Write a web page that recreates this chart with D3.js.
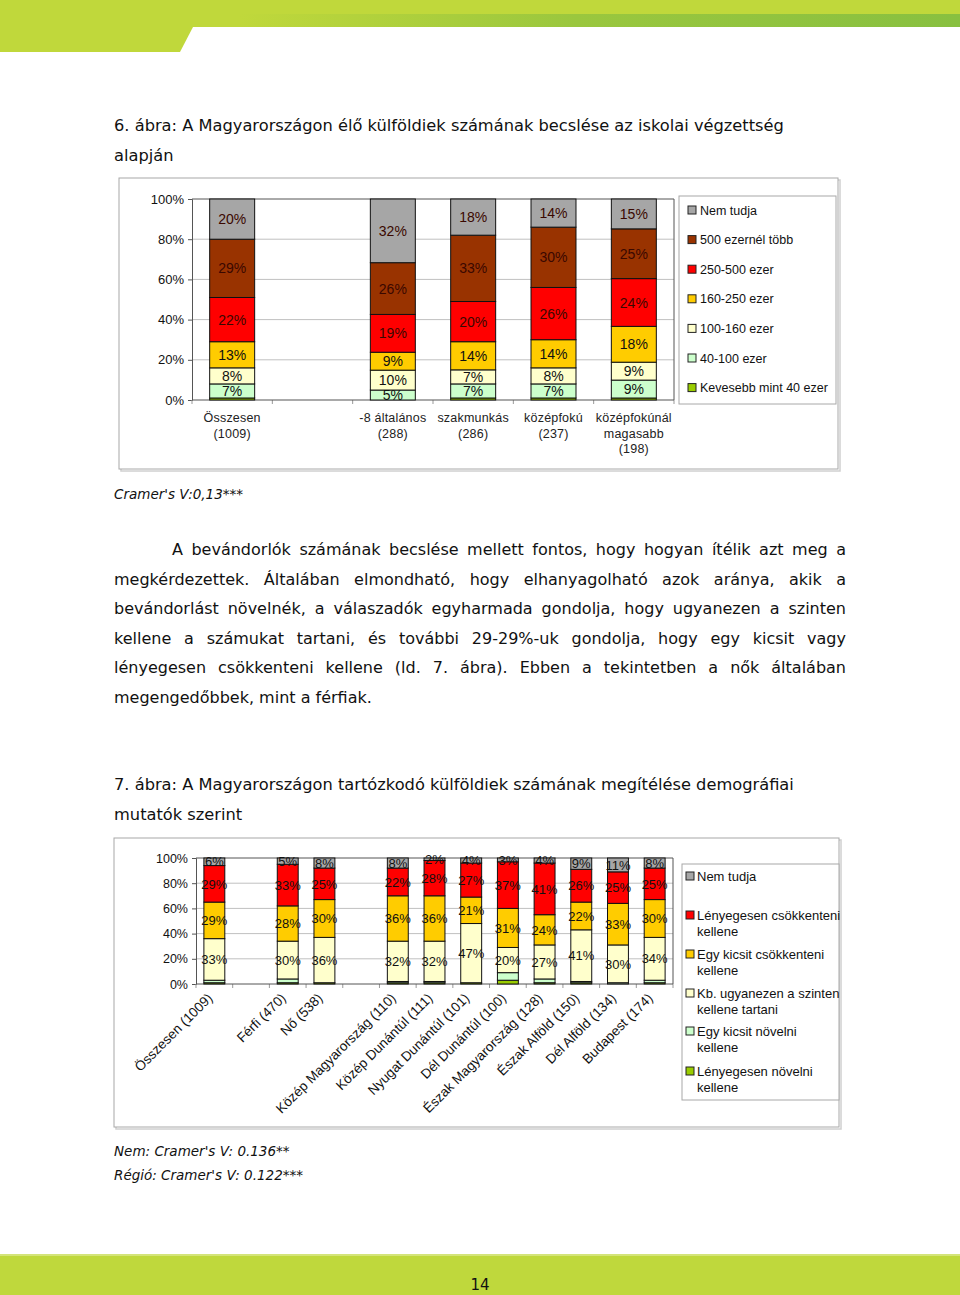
<!DOCTYPE html>
<html><head><meta charset="utf-8">
<script src="https://cdn.jsdelivr.net/npm/d3@7"></script>
<style>body{margin:0;background:#fff}svg{display:block}</style>
</head><body>
<svg id="page" width="960" height="1295"></svg>
<script>
// ---------- DATA ----------
const cats1 = ["Összesen\n(1009)", "", "-8 általános\n(288)", "szakmunkás\n(286)", "középfokú\n(237)", "középfokúnál\nmagasabb\n(198)"];
const series1 = ["Kevesebb mint 40 ezer", "40-100 ezer", "100-160 ezer", "160-250 ezer", "250-500 ezer", "500 ezernél több", "Nem tudja"];
// values per category, bottom series first (order of series1)
const vals1_osszesen = [1, 7, 8, 13, 22, 29, 20];
const vals1_altalanos = [0, 5, 10, 9, 19, 26, 32];
const vals1_szakmunkas = [1, 7, 7, 14, 20, 33, 18];
const vals1_kozepfoku = [1, 7, 8, 14, 26, 30, 14];
const vals1_magasabb = [1, 9, 9, 18, 24, 25, 15];
const values1 = [vals1_osszesen, null, vals1_altalanos, vals1_szakmunkas, vals1_kozepfoku, vals1_magasabb];
const labelled1 = [1, 2, 3, 4, 5, 6]; // series indexes with value labels

const cats2 = ["Összesen (1009)", "", "Férfi (470)", "Nő (538)", "", "Közép Magyarország (110)", "Közép Dunántúl (111)", "Nyugat Dunántúl (101)", "Dél Dunántúl (100)", "Észak Magyarország (128)", "Észak Alföld (150)", "Dél Alföld (134)", "Budapest (174)"];
const series2 = ["Lényegesen növelni\nkellene", "Egy kicsit növelni\nkellene", "Kb. ugyanezen a szinten\nkellene tartani", "Egy kicsit csökkenteni\nkellene", "Lényegesen csökkenteni\nkellene", "Nem tudja"];
const vals2_osszesen = [1, 2, 33, 29, 29, 6];
const vals2_ferfi = [1, 3, 30, 28, 33, 5];
const vals2_no = [1, 0, 36, 30, 25, 8];
const vals2_kozepmo = [1, 1, 32, 36, 22, 8];
const vals2_kozepdu = [1, 1, 32, 36, 28, 2];
const vals2_nyugatdu = [1, 0, 47, 21, 27, 4];
const vals2_deldu = [3, 6, 20, 31, 37, 3];
const vals2_eszakmo = [1, 3, 27, 24, 41, 4];
const vals2_eszakalf = [1, 1, 41, 22, 26, 9];
const vals2_delalf = [0, 1, 30, 33, 25, 11];
const vals2_budapest = [1, 2, 34, 30, 25, 8];
const values2 = [vals2_osszesen, null, vals2_ferfi, vals2_no, null, vals2_kozepmo, vals2_kozepdu, vals2_nyugatdu, vals2_deldu, vals2_eszakmo, vals2_eszakalf, vals2_delalf, vals2_budapest];
const labelled2 = [2, 3, 4, 5];

const yTicks = [0, 0.2, 0.4, 0.6, 0.8, 1];

const title1 = ["6. ábra: A Magyarországon élő külföldiek számának becslése az iskolai végzettség", "alapján"];
const cramer1 = "Cramer's V:0,13***";
const paragraph = [
  "A bevándorlók számának becslése mellett fontos, hogy hogyan ítélik azt meg a",
  "megkérdezettek. Általában elmondható, hogy elhanyagolható azok aránya, akik a",
  "bevándorlást növelnék, a válaszadók egyharmada gondolja, hogy ugyanezen a szinten",
  "kellene a számukat tartani, és további 29-29%-uk gondolja, hogy egy kicsit vagy",
  "lényegesen csökkenteni kellene (ld. 7. ábra). Ebben a tekintetben a nők általában",
  "megengedőbbek, mint a férfiak."
];
const title2 = ["7. ábra: A Magyarországon tartózkodó külföldiek számának megítélése demográfiai", "mutatók szerint"];
const notes2 = ["Nem: Cramer's V: 0.136**", "Régió: Cramer's V: 0.122***"];
const pageNo = "14";

// ---------- STYLE ----------
const colors1 = ["#99cc00", "#ccffcc", "#ffffcc", "#ffcc00", "#ff0000", "#993300", "#a6a6a6"];
const colors2 = ["#99cc00", "#ccffcc", "#ffffcc", "#ffcc00", "#ff0000", "#a6a6a6"];
const DOC = "DejaVu Sans, Verdana, sans-serif";
const CH = "Liberation Sans, Arial, sans-serif";

const svg = d3.select("#page");

// ---------- PAGE DECORATION ----------
const defs = svg.append("defs");
const grad = defs.append("linearGradient").attr("id", "hg").attr("x1", "0").attr("x2", "1");
grad.append("stop").attr("offset", "0.25").attr("stop-color", "#c0d83b");
grad.append("stop").attr("offset", "0.6").attr("stop-color", "#9ac73e");
grad.append("stop").attr("offset", "1").attr("stop-color", "#88c040");
svg.append("rect").attr("x", 0).attr("y", 0).attr("width", 960).attr("height", 27).attr("fill", "url(#hg)");
svg.append("rect").attr("x", 0).attr("y", 0).attr("width", 960).attr("height", 14).attr("fill", "#c0d83b");
svg.append("path").attr("d", "M0,0 L193,0 L193,27 L180,52 L0,52 Z").attr("fill", "#c0d83b");
svg.append("rect").attr("x", 0).attr("y", 1254).attr("width", 960).attr("height", 41).attr("fill", "#bfd83c");
svg.append("rect").attr("x", 0).attr("y", 1254).attr("width", 960).attr("height", 2).attr("fill", "#d4e47a");
svg.append("text").attr("x", 480).attr("y", 1290).attr("text-anchor", "middle")
  .attr("font-family", DOC).attr("font-size", 15).attr("fill", "#111").text(pageNo);

// ---------- DOCUMENT TEXT ----------
function plainLines(lines, x, y0, lh, size, italic) {
  lines.forEach((l, i) => {
    svg.append("text").attr("x", x).attr("y", y0 + i * lh)
      .attr("font-family", DOC).attr("font-size", size)
      .attr("font-style", italic ? "italic" : "normal").attr("fill", "#111").text(l);
  });
}
plainLines(title1, 114, 131, 29.5, 16.25, false);
plainLines([cramer1], 114, 499, 0, 13.5, true);
plainLines(title2, 114, 790, 29.5, 16.25, false);
plainLines(notes2, 114, 1156, 24, 13.5, true);

function justify(str, x0, x1, y, size, doJustify) {
  const words = str.split(" ");
  const g = svg.append("g");
  const nodes = words.map(w => g.append("text").attr("y", y).attr("font-family", DOC)
    .attr("font-size", size).attr("fill", "#111").text(w));
  const widths = nodes.map(n => n.node().getComputedTextLength());
  const total = d3.sum(widths);
  const gap = doJustify ? (x1 - x0 - total) / (words.length - 1) : size * 0.318;
  let x = x0;
  nodes.forEach((n, i) => { n.attr("x", x); x += widths[i] + gap; });
}
paragraph.forEach((l, i) => {
  justify(l, i === 0 ? 172 : 114, 846, 555 + i * 29.5, 16, i < paragraph.length - 1);
});

// ---------- CHART HELPER ----------
function frame(x, y, w, h) {
  svg.append("rect").attr("x", x + 2).attr("y", y + 2).attr("width", w).attr("height", h)
    .attr("fill", "none").attr("stroke", "#d0d0d0").attr("stroke-width", 1.5);
  svg.append("rect").attr("x", x).attr("y", y).attr("width", w).attr("height", h)
    .attr("fill", "#fff").attr("stroke", "#a8a8a8").attr("stroke-width", 1);
}

function stackedChart(cfg) {
  const g = svg.append("g");
  const idx = cfg.cats.map((c, i) => i);
  const x = d3.scaleBand().domain(idx).range([cfg.x0, cfg.x1]).paddingInner(cfg.pad).paddingOuter(cfg.pad / 2);
  const y = d3.scaleLinear().domain([0, 1]).range([cfg.y1, cfg.y0]);

  // gridlines
  g.append("g").selectAll("line").data(yTicks.filter(t => t > 0 && t < 1)).join("line")
    .attr("x1", cfg.x0).attr("x2", cfg.x1).attr("y1", d => y(d)).attr("y2", d => y(d))
    .attr("stroke", "#c0c0c0").attr("stroke-width", 1);

  // y axis
  const ya = g.append("g").attr("transform", `translate(${cfg.x0},0)`)
    .call(d3.axisLeft(y).tickValues(yTicks).tickFormat(d3.format(".0%")).tickSize(4).tickPadding(4));
  ya.select(".domain").attr("stroke", "#555");
  ya.selectAll(".tick line").attr("stroke", "#555");
  ya.selectAll("text").attr("font-family", CH).attr("font-size", cfg.tickSize).attr("fill", "#111");

  // x axis ticks at boundaries
  const step = x.step();
  const bounds = d3.range(cfg.cats.length + 1).map(i => cfg.x0 + i * step);
  g.append("g").selectAll("line").data(bounds).join("line")
    .attr("x1", d => d).attr("x2", d => d).attr("y1", cfg.y1).attr("y2", cfg.y1 + 4)
    .attr("stroke", "#999");

  // plot border
  g.append("line").attr("x1", cfg.x0).attr("x2", cfg.x1).attr("y1", cfg.y0).attr("y2", cfg.y0).attr("stroke", "#555");
  g.append("line").attr("x1", cfg.x1).attr("x2", cfg.x1).attr("y1", cfg.y0).attr("y2", cfg.y1).attr("stroke", "#555");
  g.append("line").attr("x1", cfg.x0).attr("x2", cfg.x1).attr("y1", cfg.y1).attr("y2", cfg.y1).attr("stroke", "#555");

  // stack
  const rows = [];
  cfg.values.forEach((v, i) => {
    if (!v) return;
    const r = { i };
    v.forEach((val, s) => r["s" + s] = val);
    rows.push(r);
  });
  const keys = cfg.series.map((s, k) => "s" + k);
  const stacked = d3.stack().keys(keys).offset(d3.stackOffsetExpand)(rows);

  const layers = g.append("g").selectAll("g").data(stacked).join("g")
    .attr("fill", (d, k) => cfg.colors[k]);
  layers.selectAll("rect").data(d => d).join("rect")
    .attr("x", d => x(d.data.i)).attr("width", x.bandwidth())
    .attr("y", d => y(d[1])).attr("height", d => Math.max(0, y(d[0]) - y(d[1])))
    .attr("stroke", "#111").attr("stroke-width", 1);

  // value labels
  const lab = g.append("g");
  stacked.forEach((layer, k) => {
    if (!cfg.labelled.includes(k)) return;
    layer.forEach(d => {
      const raw = d.data["s" + k];
      if (raw < 2) return;
      lab.append("text").attr("x", x(d.data.i) + x.bandwidth() / 2)
        .attr("y", y((d[0] + d[1]) / 2)).attr("dy", "0.36em")
        .attr("text-anchor", "middle").attr("font-family", CH).attr("font-size", cfg.labelSize)
        .attr("fill", k >= 4 && cfg.darkLabels ? "#3a0800" : "#111").text(raw + "%");
    });
  });
  return { x, y, g };
}

// ---------- CHART 1 ----------
frame(119, 178, 719, 291);
const c1 = stackedChart({ cats: cats1, series: series1, values: values1, colors: colors1, labelled: labelled1,
  x0: 192, x1: 674, y0: 199, y1: 400, pad: 0.44, tickSize: 13, labelSize: 14, darkLabels: true });
cats1.forEach((c, i) => {
  if (!c) return;
  c.split("\n").forEach((ln, j) => {
    c1.g.append("text").attr("x", c1.x(i) + c1.x.bandwidth() / 2).attr("y", 422 + j * 15.5)
      .attr("text-anchor", "middle").attr("font-family", CH).attr("font-size", 12.5)
      .attr("letter-spacing", "0.2px").attr("fill", "#222").text(ln);
  });
});
// legend 1
svg.append("rect").attr("x", 679).attr("y", 196).attr("width", 157).attr("height", 208)
  .attr("fill", "#fff").attr("stroke", "#a8a8a8");
series1.slice().reverse().forEach((s, j) => {
  const k = series1.length - 1 - j;
  const yy = 210 + j * 29.6;
  svg.append("rect").attr("x", 688).attr("y", yy - 4).attr("width", 8).attr("height", 8)
    .attr("fill", colors1[k]).attr("stroke", "#222");
  svg.append("text").attr("x", 700).attr("y", yy).attr("dy", "0.36em")
    .attr("font-family", CH).attr("font-size", 12.5).attr("fill", "#111").text(s);
});

// ---------- CHART 2 ----------
frame(114, 838, 725, 289);
const c2 = stackedChart({ cats: cats2, series: series2, values: values2, colors: colors2, labelled: labelled2,
  x0: 196, x1: 673, y0: 858, y1: 984, pad: 0.43, tickSize: 12.5, labelSize: 13, darkLabels: false });
cats2.forEach((c, i) => {
  if (!c) return;
  const cx = c2.x(i) + c2.x.bandwidth() / 2 - 1;
  c2.g.append("text").attr("transform", `translate(${cx},999) rotate(-45)`)
    .attr("text-anchor", "end").attr("font-family", CH).attr("font-size", 13.6)
    .attr("fill", "#111").text(c);
});
// legend 2
svg.append("rect").attr("x", 682).attr("y", 864).attr("width", 157).attr("height", 236)
  .attr("fill", "#fff").attr("stroke", "#a8a8a8");
const leg2Y = [876, 915, 954, 993, 1031, 1071];
series2.slice().reverse().forEach((s, j) => {
  const k = series2.length - 1 - j;
  const yy = leg2Y[j];
  svg.append("rect").attr("x", 686).attr("y", yy - 4).attr("width", 8).attr("height", 8)
    .attr("fill", colors2[k]).attr("stroke", "#222");
  s.split("\n").forEach((ln, m) => {
    svg.append("text").attr("x", 697).attr("y", yy + m * 16).attr("dy", "0.36em")
      .attr("font-family", CH).attr("font-size", 13).attr("fill", "#111").text(ln);
  });
});
</script>
</body></html>
